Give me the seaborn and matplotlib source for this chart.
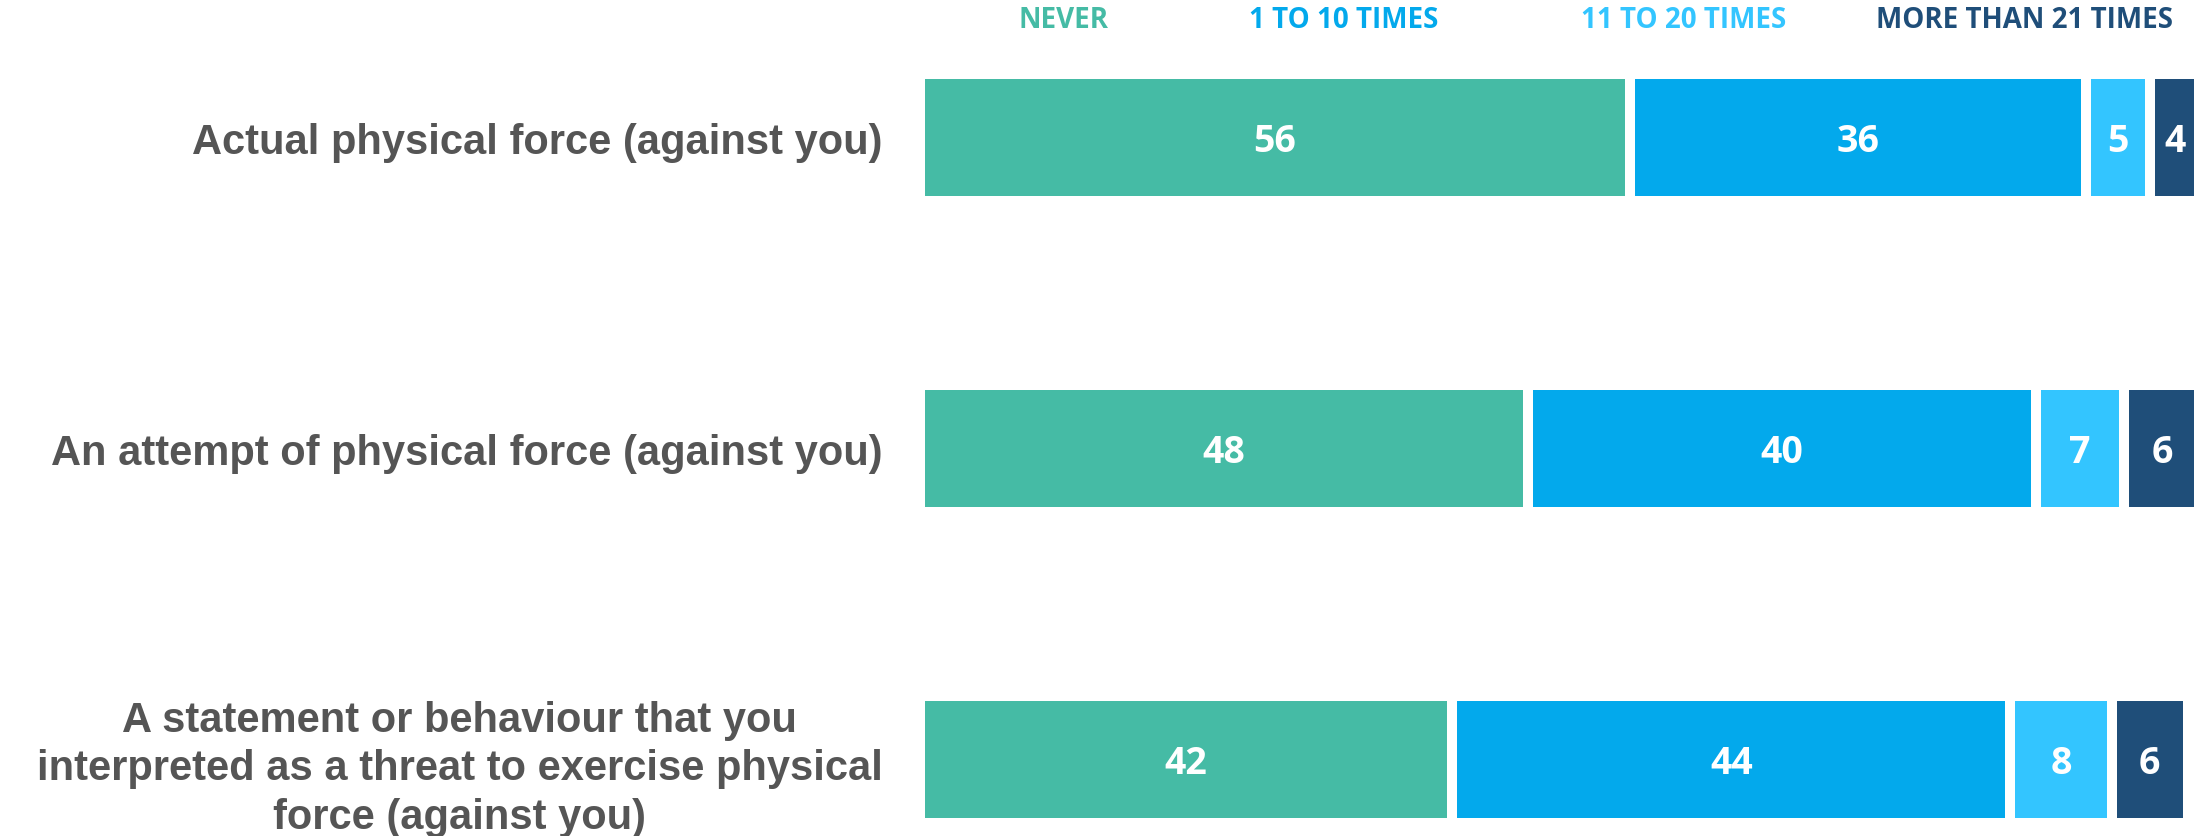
import matplotlib
matplotlib.use("Agg")
import matplotlib.pyplot as plt
import matplotlib.transforms as mtransforms
import seaborn as sns
import numpy as np

categories = [
    "Actual physical force (against you)",
    "An attempt of physical force (against you)",
    "A statement or behaviour that you\ninterpreted as a threat to exercise physical\nforce (against you)",
]
series = ["NEVER", "1 TO 10 TIMES", "11 TO 20 TIMES", "MORE THAN 21 TIMES"]
never = [56, 48, 42]
times_1_10 = [36, 40, 44]
times_11_20 = [5, 7, 8]
times_21_plus = [4, 6, 6]
colors = ["#45BBA5", "#03A9EC", "#33C5FF", "#1F4E79"]

sns.set_theme(style="white")

values = np.array([never, times_1_10, times_11_20, times_21_plus])
cum = np.cumsum(values, axis=0)

fig = plt.figure(figsize=(21.94, 8.37), dpi=100)
ax = fig.add_axes([920 / 2194, 0, 1 - 920 / 2194, 1])

# stacked bars: draw the running totals from longest to shortest
for i in reversed(range(len(series))):
    sns.barplot(x=cum[i], y=categories, color=colors[i], saturation=1,
                width=0.41, edgecolor="white", linewidth=7.2,
                errorbar=None, orient="h", ax=ax)

for i in range(len(series)):
    for j in range(len(categories)):
        ax.text(cum[i][j] - values[i][j] / 2, j + 0.01, str(values[i][j]),
                ha="center", va="center", color="white", fontsize=27,
                fontweight="bold", family="Open Sans")

# header legend
trans = mtransforms.blended_transform_factory(ax.transData, ax.transAxes)
header_x = [11.3, 33.4, 60.2, 87.1]
for name, x, c in zip(series, header_x, colors):
    ax.text(x, 0.975, name, transform=trans, ha="center", va="center",
            color=c, fontsize=20, fontweight="bold", family="Open Sans")

ax.set_xlim(0, 100.5)
ax.set_ylim(2.246, -0.445)
ax.set_xticks([])
ax.set(xlabel=None, ylabel=None)
sns.despine(ax=ax, left=True, bottom=True)
ax.tick_params(axis="y", length=0, pad=27)
for lab in ax.get_yticklabels():
    lab.set_fontfamily("Liberation Sans")
    lab.set_fontweight("bold")
    lab.set_fontsize(30)
    lab.set_color("#555555")
    lab.set_multialignment("center")
    lab.set_linespacing(1.28)

plt.savefig("out.png", dpi=100)
